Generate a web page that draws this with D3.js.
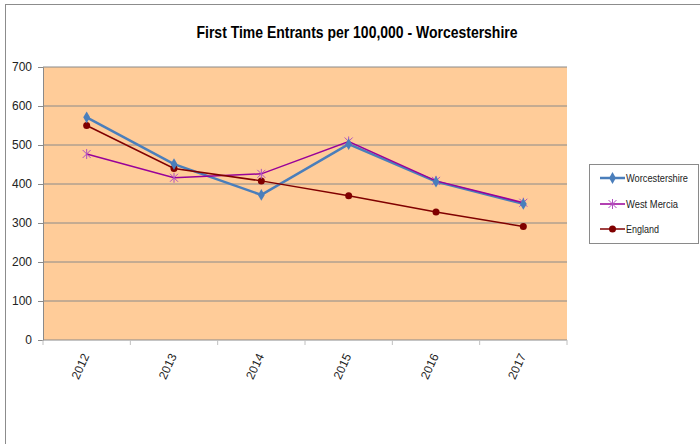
<!DOCTYPE html>
<html><head><meta charset="utf-8">
<script src="https://cdn.jsdelivr.net/npm/d3@7"></script>
<style>body{margin:0;background:#fff}svg{display:block}</style>
</head><body><svg id="c" width="700" height="444"></svg>
<script>
const years = ["2012","2013","2014","2015","2016","2017"];
const worcestershire = [571, 451, 372, 502, 406, 349];
const westMercia = [477, 416, 426, 509, 408, 352];
const england = [550, 440, 408, 370, 328, 291];
const yTicks = [0,100,200,300,400,500,600,700];
const seriesNames = ["Worcestershire","West Mercia","England"];
const seriesColors = ["#4A7EBB","#990099","#800000"];

const svg = d3.select("#c");
const font = "'Liberation Sans',Arial,sans-serif";
svg.append("rect").attr("x",5.5).attr("y",4.5).attr("width",720).attr("height",460)
  .attr("fill","#fff").attr("stroke","#8c8c8c");

svg.append("text").attr("x",357).attr("y",38).attr("text-anchor","middle")
  .attr("font-family",font).attr("font-weight","bold").attr("font-size",17)
  .attr("textLength",321).attr("lengthAdjust","spacingAndGlyphs")
  .text("First Time Entrants per 100,000 - Worcestershire");

const L=43,R=567,T=67,B=340;
const x = d3.scaleBand().domain(years).range([L,R]);
const y = d3.scaleLinear().domain([0,700]).range([B,T]);

svg.append("rect").attr("x",L).attr("y",T).attr("width",R-L).attr("height",B-T).attr("fill","#FFCC99");
svg.append("g").selectAll("line").data(yTicks.slice(1)).join("line")
  .attr("x1",L).attr("x2",R).attr("y1",d=>y(d)).attr("y2",d=>y(d))
  .attr("stroke","#8a8a8a").attr("stroke-width",1);

const ya = svg.append("g").attr("transform",`translate(${L},0)`)
  .call(d3.axisLeft(y).tickValues(yTicks).tickSize(5).tickPadding(6));
ya.select(".domain").attr("stroke","#8a8a8a");
ya.selectAll(".tick line").attr("stroke","#8a8a8a");
ya.selectAll("text").attr("font-family",font).attr("font-size",12).attr("fill","#222");

const xa = svg.append("g").attr("transform",`translate(0,${B})`);
xa.append("line").attr("x1",L).attr("x2",R).attr("stroke","#8a8a8a");
xa.selectAll("line.t").data(years.concat(["end"])).join("line").attr("class","t")
  .attr("x1",(d,i)=>L+i*x.step()).attr("x2",(d,i)=>L+i*x.step()).attr("y1",0).attr("y2",5)
  .attr("stroke","#c0c0c0");
xa.selectAll("text").data(years).join("text")
  .attr("transform",d=>`translate(${x(d)+x.bandwidth()/2+3},${16}) rotate(-65)`)
  .attr("text-anchor","end").attr("font-family",font).attr("font-size",12).attr("fill","#222")
  .text(d=>d);

const data = [worcestershire, westMercia, england];
const line = d3.line().x((d,i)=>x(years[i])+x.bandwidth()/2).y(d=>y(d));
const widths=[2.5,1.5,1.5];
data.forEach((s,k)=>{
  svg.append("path").datum(s).attr("d",line).attr("fill","none")
    .attr("stroke",seriesColors[k]).attr("stroke-width",widths[k]);
});
function marker(g,k,cx,cy){
  if(k===0){
    g.append("path").attr("d",d3.symbol(d3.symbolDiamond,40)()).attr("transform",`translate(${cx},${cy})`).attr("fill",seriesColors[0]);
  } else if(k===1){
    const s=4;
    g.append("path").attr("d",`M${cx-s},${cy-s}L${cx+s},${cy+s}M${cx-s},${cy+s}L${cx+s},${cy-s}M${cx},${cy-s-1}L${cx},${cy+s+1}`)
      .attr("stroke","#B04FC0").attr("stroke-width",1).attr("fill","none");
  } else {
    g.append("circle").attr("cx",cx).attr("cy",cy).attr("r",3.5).attr("fill",seriesColors[2]);
  }
}
const mg = svg.append("g");
[2,1,0].forEach(k=>{
  data[k].forEach((v,i)=>marker(mg,k,x(years[i])+x.bandwidth()/2,y(v)));
});

// legend
const lg = svg.append("g");
lg.append("rect").attr("x",589.5).attr("y",164.5).attr("width",109).attr("height",79)
  .attr("fill","#fff").attr("stroke","#8a8a8a");
const legLens=[62,52,33];
seriesNames.forEach((n,k)=>{
  const ly=[178,204,229][k];
  lg.append("line").attr("x1",600).attr("x2",625).attr("y1",ly).attr("y2",ly)
    .attr("stroke",seriesColors[k]).attr("stroke-width",widths[k]);
  marker(lg,k,612.5,ly);
  lg.append("text").attr("x",626).attr("y",ly+4).attr("font-family",font).attr("font-size",11)
    .attr("textLength",legLens[k]).attr("lengthAdjust","spacingAndGlyphs")
    .attr("fill","#222").text(n);
});
</script></body></html>
